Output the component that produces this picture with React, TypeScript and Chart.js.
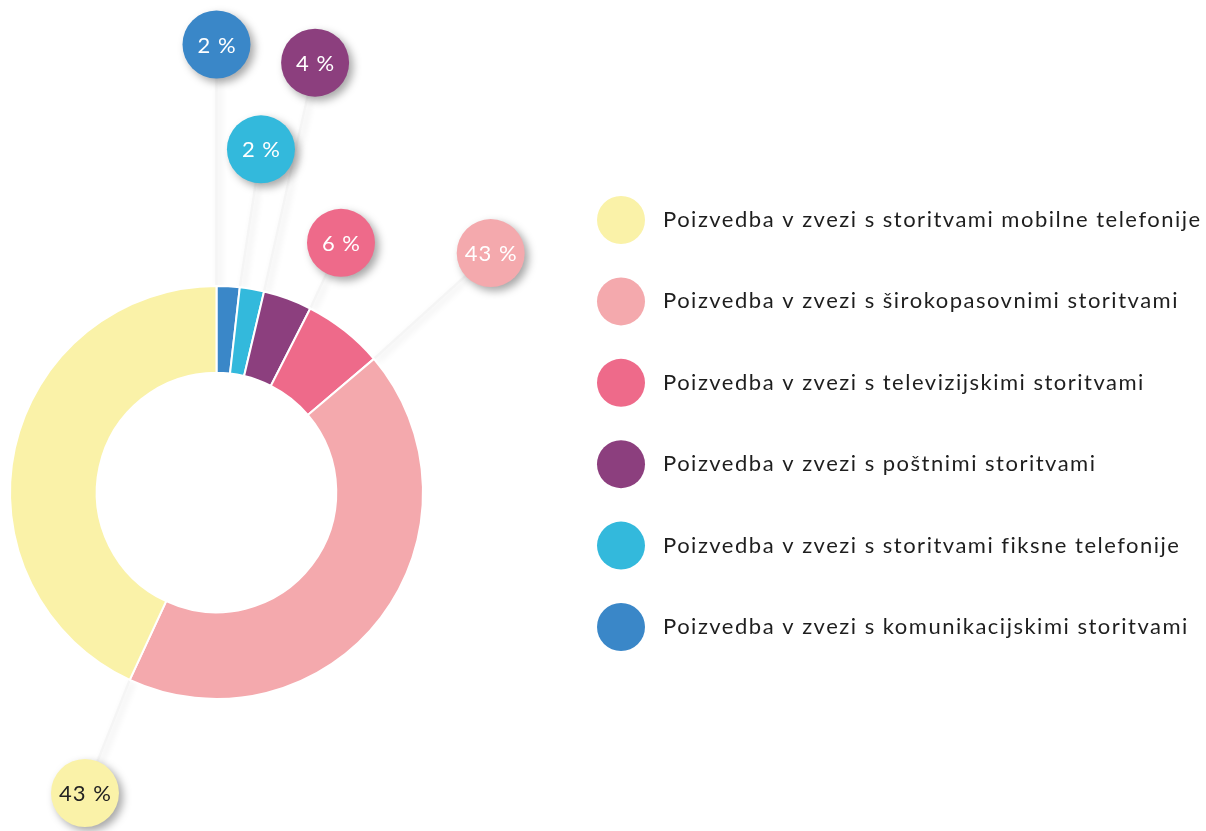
import React, { useEffect, useRef } from "react";
import { Chart, registerables } from "chart.js";

Chart.register(...registerables);

// Categories in clockwise order starting at 12 o'clock
const categories: string[] = [
  "Poizvedba v zvezi s komunikacijskimi storitvami",
  "Poizvedba v zvezi s storitvami fiksne telefonije",
  "Poizvedba v zvezi s poštnimi storitvami",
  "Poizvedba v zvezi s televizijskimi storitvami",
  "Poizvedba v zvezi s širokopasovnimi storitvami",
  "Poizvedba v zvezi s storitvami mobilne telefonije",
];
const shares: number[] = [1.8, 1.9, 3.8, 6.3, 43.1, 43.1];
const colors: string[] = ["#3a87c8", "#33b9dc", "#8c3f7e", "#ee6a8a", "#f4a9ad", "#faf2a8"];
const labelTextColors: string[] = ["#ffffff", "#ffffff", "#ffffff", "#ffffff", "#ffffff", "#222222"];
// Callout styling: radial distance of bubble from centre and small angular nudge (deg)
const calloutDistance: number[] = [448, 346, 441, 279, 364, 328];
const calloutNudge: number[] = [0, 0.9, -0.4, -0.5, -0.8, -1.2];

const FONT = "Lato, 'Open Sans', sans-serif";

const calloutPlugin = {
  id: "callouts",
  beforeDatasetsDraw(chart: any) {
    const ctx = chart.ctx;
    const meta = chart.getDatasetMeta(0);
    meta.data.forEach((arc: any, i: number) => {
      const a0 = arc.startAngle;
      const sx = arc.x + Math.cos(a0) * arc.outerRadius;
      const sy = arc.y + Math.sin(a0) * arc.outerRadius;
      const a1 = a0 + (calloutNudge[i] * Math.PI) / 180;
      const ex = arc.x + Math.cos(a1) * calloutDistance[i];
      const ey = arc.y + Math.sin(a1) * calloutDistance[i];
      ctx.save();
      ctx.strokeStyle = "#f5f5f5";
      ctx.lineWidth = 2.5;
      ctx.shadowColor = "rgba(0,0,0,0.11)";
      ctx.shadowBlur = 7;
      ctx.shadowOffsetX = 3;
      ctx.shadowOffsetY = 2;
      ctx.beginPath();
      ctx.moveTo(sx, sy);
      ctx.lineTo(ex, ey);
      ctx.stroke();
      ctx.restore();
    });
  },
  afterDatasetsDraw(chart: any) {
    const ctx = chart.ctx;
    const meta = chart.getDatasetMeta(0);
    meta.data.forEach((arc: any, i: number) => {
      const a1 = arc.startAngle + (calloutNudge[i] * Math.PI) / 180;
      const cx = arc.x + Math.cos(a1) * calloutDistance[i];
      const cy = arc.y + Math.sin(a1) * calloutDistance[i];
      ctx.save();
      ctx.fillStyle = colors[i];
      ctx.shadowColor = "rgba(0,0,0,0.35)";
      ctx.shadowBlur = 9;
      ctx.shadowOffsetX = 4;
      ctx.shadowOffsetY = 4;
      ctx.beginPath();
      ctx.arc(cx, cy, 34, 0, Math.PI * 2);
      ctx.fill();
      ctx.restore();
      ctx.save();
      ctx.fillStyle = labelTextColors[i];
      ctx.font = `22px ${FONT}`;
      (ctx as any).letterSpacing = "1px";
      ctx.textAlign = "center";
      ctx.textBaseline = "middle";
      ctx.fillText(`${Math.round(shares[i])} %`, cx + 0.5, cy + 1);
      ctx.restore();
    });

    // Legend (drawn in reverse order of the ring)
    const startY = 220;
    const stepY = 81.4;
    const order = categories.map((_, i) => categories.length - 1 - i);
    order.forEach((idx, row) => {
      const y = startY + row * stepY;
      ctx.save();
      ctx.fillStyle = colors[idx];
      ctx.beginPath();
      ctx.arc(621, y, 24, 0, Math.PI * 2);
      ctx.fill();
      ctx.fillStyle = "#1e1e1e";
      ctx.font = `22px ${FONT}`;
      (ctx as any).letterSpacing = "1.5px";
      ctx.textAlign = "left";
      ctx.textBaseline = "middle";
      ctx.fillText(categories[idx], 663, y);
      ctx.restore();
    });
  },
};

export default function App() {
  const canvasRef = useRef<HTMLCanvasElement | null>(null);
  useEffect(() => {
    if (!canvasRef.current) return;
    const chart = new Chart(canvasRef.current, {
      type: "doughnut",
      data: {
        labels: categories,
        datasets: [
          {
            data: shares,
            backgroundColor: colors,
            borderColor: "#ffffff",
            borderWidth: 2,
          },
        ],
      },
      options: {
        animation: false,
        responsive: false,
        cutout: "58%",
        layout: { padding: { left: 9, right: 782, top: 285, bottom: 131 } },
        plugins: {
          legend: { display: false },
          tooltip: { enabled: false },
        },
      },
      plugins: [calloutPlugin],
    });
    return () => chart.destroy();
  }, []);
  return (
    <div style={{ position: "fixed", left: 0, top: 0, width: 1206, height: 831, background: "#fff" }}>
      <canvas ref={canvasRef} width={1206} height={831} style={{ width: 1206, height: 831 }} />
    </div>
  );
}
